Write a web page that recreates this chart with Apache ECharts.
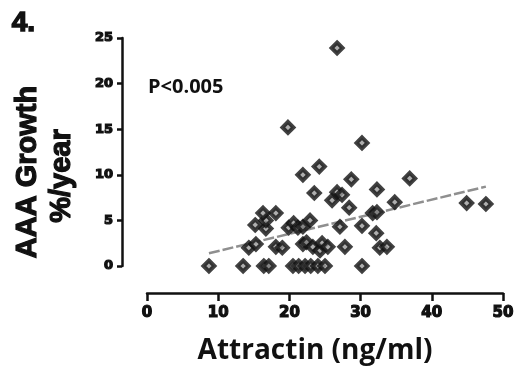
<!DOCTYPE html>
<html>
<head>
<meta charset="utf-8">
<script src="https://cdn.jsdelivr.net/npm/echarts@6/dist/echarts.min.js"></script>
<style>html,body{margin:0;padding:0;background:#fff;}#c{width:517px;height:370px;}</style>
</head>
<body>
<div id="c"></div>
<script>
var attractin = [8.7,13.5,16.4,17.1,20.5,21.3,22.2,23.0,24.0,25.0,30.2,
  14.3,15.3,18.1,19.0,21.9,22.4,23.3,24.3,24.6,25.4,27.8,32.7,33.7,
  15.2,16.7,16.7,16.3,18.1,19.9,20.6,21.2,21.9,22.9,27.1,30.2,32.2,
  28.4,31.7,32.3,34.8,26.0,26.7,27.4,23.5,32.3,28.7,36.9,21.9,24.2,
  30.2,19.8,26.7,44.9,47.6];
var growth = [0,0,0,0,0,0,0,0,0,0,0,
  2.0,2.4,2.1,2.0,2.4,2.6,2.1,1.7,2.5,2.1,2.1,2.0,2.1,
  4.5,4.1,5.0,5.8,5.8,4.2,4.7,4.2,4.3,5.0,4.3,4.4,3.6,
  6.4,5.8,5.9,7.0,7.2,8.1,7.8,8.0,8.4,9.5,9.6,10.0,10.9,
  13.5,15.2,23.9,6.9,6.8];
var fitX = [8.7, 47.6];
var fitY = [1.4, 8.7];
var xTicks = [0,10,20,30,40,50];
var yTicks = [0,5,10,15,20,25];
var xTitle = 'Attractin (ng/ml)';
var yTitle1 = 'AAA Growth';
var yTitle2 = '%/year';
var panelLabel = '4.';
var pText = 'P<0.005';

var pts = attractin.map(function(x,i){return [x, growth[i]];});
var fit = fitX.map(function(x,i){return [x, fitY[i]];});
var chart = echarts.init(document.getElementById('c'), null, {renderer:'canvas'});
chart.setOption({
  animation:false,
  backgroundColor:'#fff',
  grid:{left:147, right:14, top:38, bottom:104},
  xAxis:{type:'value', min:0, max:50, interval:10, offset:27,
    axisLine:{show:true, onZero:false, lineStyle:{color:'#111', width:2.5}},
    axisTick:{show:true, length:8, lineStyle:{color:'#111', width:2.5}},
    axisLabel:{margin:13, color:'#111', fontFamily:'DejaVu Sans', fontWeight:'bold', fontSize:15,
      textBorderColor:'#111', textBorderWidth:1.2,
      formatter:function(v){return xTicks.indexOf(v)>=0?String(v):'';}},
    splitLine:{show:false}},
  yAxis:{type:'value', min:0, max:25, interval:5, offset:25,
    axisLine:{show:true, onZero:false, lineStyle:{color:'#111', width:2.5}},
    axisTick:{show:true, length:5, lineStyle:{color:'#111', width:2.5}},
    axisLabel:{margin:9, color:'#111', fontFamily:'DejaVu Sans', fontWeight:'bold', fontSize:13,
      textBorderColor:'#111', textBorderWidth:1.2,
      formatter:function(v){return yTicks.indexOf(v)>=0?String(v):'';}},
    splitLine:{show:false}},
  graphic:[
    {type:'text', left:11, top:9, style:{text:panelLabel, font:'bold 28px "Liberation Sans"', fill:'#111', stroke:'#111', lineWidth:1.5}},
    {type:'text', left:148, top:77, style:{text:pText, font:'bold 20px "Open Sans"', fill:'#111'}},
    {type:'text', x:315, y:351, style:{text:xTitle, font:'bold 28px "Open Sans"', fill:'#111', textAlign:'center', textVerticalAlign:'middle'}},
    {type:'text', x:28, y:172, rotation:Math.PI/2, style:{text:yTitle1, font:'bold 29px "Liberation Sans"', fill:'#111', stroke:'#111', lineWidth:1.2, textAlign:'center', textVerticalAlign:'middle'}},
    {type:'text', x:62, y:176, rotation:Math.PI/2, style:{text:yTitle2, font:'bold 29px "Liberation Sans"', fill:'#111', stroke:'#111', lineWidth:1.2, textAlign:'center', textVerticalAlign:'middle'}}
  ],
  series:[
    {type:'line', data:fit, symbol:'none', z:1,
      lineStyle:{color:'#8f8f8f', width:2.5, type:[11,3]}},
    {type:'scatter', data:pts, symbol:'diamond', symbolSize:[11,11], z:2,
      itemStyle:{color:'#9a9a9a', borderColor:'#111', borderWidth:4}}
  ]
});
</script>
</body>
</html>
